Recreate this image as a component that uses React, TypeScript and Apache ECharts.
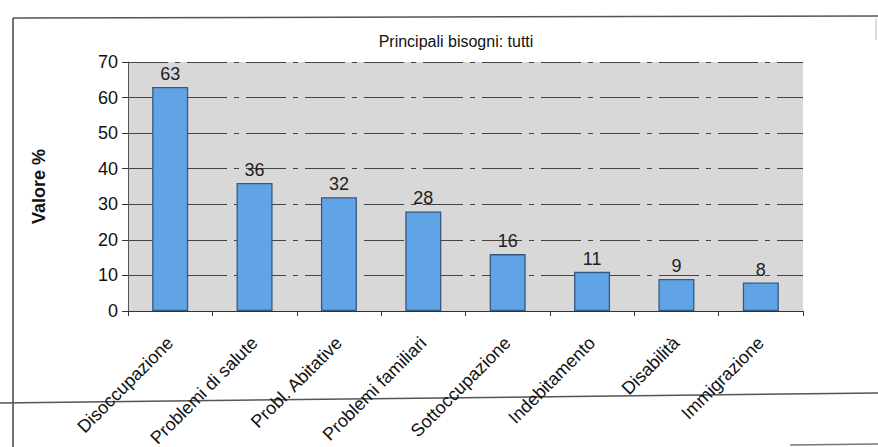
import React, { useEffect, useRef } from "react";
import * as echarts from "echarts";

const categories = [
  "Disoccupazione",
  "Problemi di salute",
  "Probl. Abitative",
  "Problemi familiari",
  "Sottoccupazione",
  "Indebitamento",
  "Disabilità",
  "Immigrazione",
];
const values = [63, 36, 32, 28, 16, 11, 9, 8];
const chartTitle = "Principali bisogni: tutti";
const yAxisName = "Valore %";

const FONT = "'Liberation Sans', Arial, sans-serif";

export default function App() {
  const ref = useRef<HTMLDivElement>(null);

  useEffect(() => {
    if (!ref.current) return;
    const chart = echarts.init(ref.current, undefined, { renderer: "svg" });
    chart.setOption({
      animation: false,
      backgroundColor: "#ffffff",
      title: {
        text: chartTitle,
        left: 451,
        top: 28,
        textAlign: "center",
        textStyle: { fontFamily: FONT, fontSize: 16, fontWeight: "normal", color: "#111" },
      },
      grid: {
        left: 128,
        right: 75,
        top: 62,
        bottom: 136,
        outerBoundsMode: "none",
        containLabel: false,
        backgroundColor: "#d8d8d8",
        show: true,
        borderWidth: 0,
      },
      xAxis: {
        type: "category",
        data: categories,
        axisLine: { lineStyle: { color: "#333", width: 1 } },
        axisTick: { show: true, length: 5, alignWithLabel: false, lineStyle: { color: "#333" } },
        axisLabel: {
          rotate: 45,
          margin: 29,
          interval: 0,
          fontFamily: FONT,
          fontSize: 18,
          color: "#111",
        },
      },
      yAxis: {
        type: "value",
        min: 0,
        max: 70,
        interval: 10,
        name: yAxisName,
        nameLocation: "middle",
        nameGap: 80,
        nameTextStyle: { fontFamily: FONT, fontSize: 18, fontWeight: "bold", color: "#111" },
        axisLine: { show: true, lineStyle: { color: "#555" } },
        axisTick: { show: true, length: 6, lineStyle: { color: "#333" } },
        axisLabel: { fontFamily: FONT, fontSize: 18, color: "#111", margin: 10 },
        splitLine: { show: true, lineStyle: { color: "#444", width: 1, type: [40, 7, 5, 7] } },
      },
      series: [
        {
          type: "bar",
          data: values,
          barWidth: 36,
          itemStyle: { color: "#60a4e6", borderColor: "#35597f", borderWidth: 1.3 },
          label: {
            show: true,
            position: "top",
            distance: 4,
            fontFamily: FONT,
            fontSize: 18,
            color: "#222",
          },
        },
      ],
      graphic: [
        { type: "line", shape: { x1: 13, y1: 18, x2: 878, y2: 16 }, style: { stroke: "#555", lineWidth: 1.5 } },
        { type: "line", shape: { x1: 13, y1: 18, x2: 13, y2: 447 }, style: { stroke: "#444", lineWidth: 1.5 } },
        { type: "line", shape: { x1: 0, y1: 403, x2: 878, y2: 393 }, style: { stroke: "#555", lineWidth: 1.5 } },
        { type: "line", shape: { x1: 876, y1: 18, x2: 876, y2: 40 }, style: { stroke: "#bbb", lineWidth: 1 } },
        { type: "line", shape: { x1: 790, y1: 445, x2: 878, y2: 444 }, style: { stroke: "#777", lineWidth: 1.5 } },
      ],
    });
    return () => chart.dispose();
  }, []);

  return <div ref={ref} style={{ width: 878, height: 447, position: "fixed", left: 0, top: 0 }} />;
}
